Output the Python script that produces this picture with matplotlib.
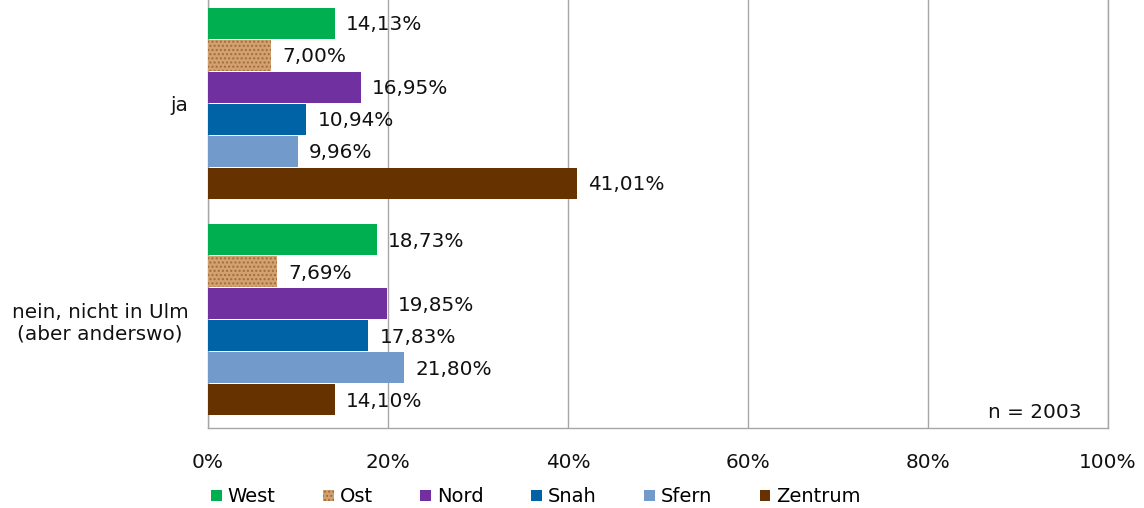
import numpy as np
import matplotlib as mpl
import matplotlib.pyplot as plt

mpl.rcParams['font.family'] = ['DejaVu Sans']
mpl.rcParams['font.size'] = 14.4
mpl.rcParams['hatch.linewidth'] = 1.0

categories = ['nein, nicht in Ulm\n(aber anderswo)', 'ja']
series = ['West', 'Ost', 'Nord', 'Snah', 'Sfern', 'Zentrum']
values = {
    'West': [18.73, 14.13],
    'Ost': [7.69, 7.00],
    'Nord': [19.85, 16.95],
    'Snah': [17.83, 10.94],
    'Sfern': [21.80, 9.96],
    'Zentrum': [14.10, 41.01],
}
colors = {
    'West': '#00B050',
    'Ost': '#D3A16F',
    'Nord': '#7030A0',
    'Snah': '#0063A6',
    'Sfern': '#729ACA',
    'Zentrum': '#663300',
}
xticks = [0, 20, 40, 60, 80, 100]
n_text = 'n = 2003'

fig = plt.figure(figsize=(11.44, 5.08), dpi=100)
ax = fig.add_axes([208 / 1144, 80 / 508, 900 / 1144, 433 / 508])

pitch = 0.148
height = 0.143
y = np.arange(len(categories))

for i, s in enumerate(series):
    offset = (2.5 - i) * pitch
    kw = {}
    if s == 'Ost':
        kw = dict(hatch='....', edgecolor='#A06C3C', linewidth=0)
    bars = ax.barh(y + offset, values[s], height=height, color=colors[s],
                   label=s, zorder=3, **kw)
    for b, v in zip(bars, values[s]):
        ax.annotate('{:.2f}%'.format(v).replace('.', ','),
                    (b.get_width(), b.get_y() + b.get_height() / 2),
                    xytext=(8, -1), textcoords='offset points',
                    ha='left', va='center', color='#111111')

ax.set_xlim(0, 100)
ax.set_ylim(-0.5, 1.5)
ax.set_xticks(xticks)
ax.set_xticklabels(['{}%'.format(t) for t in xticks])
ax.set_yticks(y)
ax.set_yticklabels(categories, multialignment='center')
ax.tick_params(axis='both', length=0, colors='#111111', labelsize=14.4)
ax.tick_params(axis='x', pad=18)
ax.tick_params(axis='y', pad=14)

ax.grid(axis='x', color='#A6A6A6', linewidth=1, zorder=0)
ax.grid(axis='y', visible=False)
for sp in ax.spines.values():
    sp.set_color('#A6A6A6')
    sp.set_linewidth(1)

ax.text(1 - 26 / 900, 6 / 433, n_text, transform=ax.transAxes,
        ha='right', va='bottom', color='#111111')

fig.legend(loc='center left', bbox_to_anchor=(211 / 1144, 1 - 497 / 508),
           ncol=6, frameon=False, fontsize=14, handlelength=0.55,
           handleheight=0.55, handletextpad=0.3, columnspacing=2.45,
           borderpad=0, borderaxespad=0)

fig.savefig('out.png', dpi=100, facecolor='white')
